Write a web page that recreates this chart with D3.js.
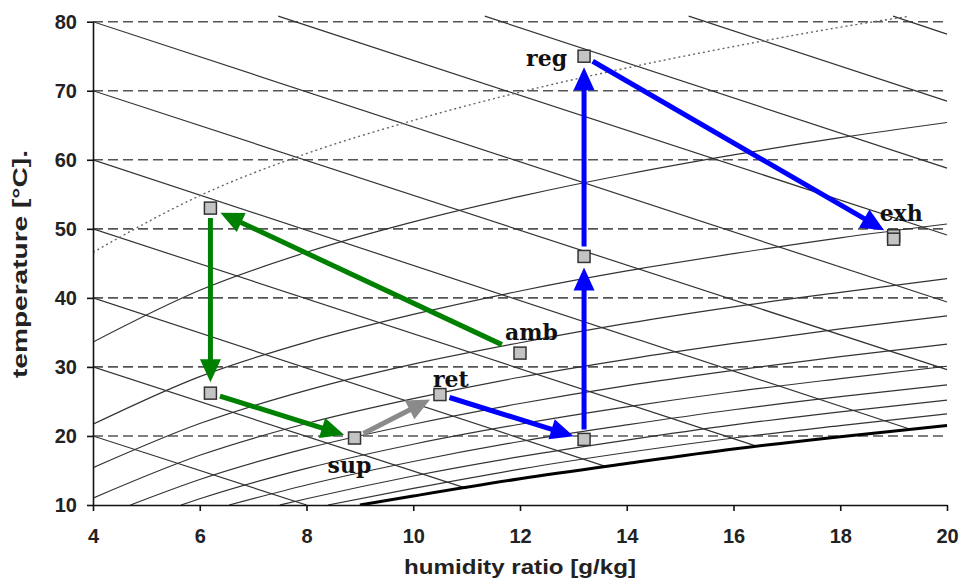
<!DOCTYPE html>
<html>
<head>
<meta charset="utf-8">
<script src="https://cdn.jsdelivr.net/npm/d3@7"></script>
<style>
  body { margin: 0; background: #fff; }
  svg { display: block; font-family: "Liberation Sans", Arial, sans-serif; }
  .axis text { font-weight: bold; font-size: 20px; fill: #222; }
  .axis path, .axis line { stroke: #111; stroke-width: 1.6; }
  .state-label { font-family: "DejaVu Serif", "Liberation Serif", serif; font-weight: bold; font-size: 22px; fill: #111; }
  .axis-title { font-weight: bold; fill: #222; }
</style>
</head>
<body>
<div id="chart"></div>
<script>
// ticks
var xTicks = [4, 6, 8, 10, 12, 14, 16, 18, 20];
var yTicks = [10, 20, 30, 40, 50, 60, 70, 80];
var gridTemps = [20, 30, 40, 50, 60, 70, 80];

// constant enthalpy lines, [x g/kg, T °C] end points
var enthalpyLines = [
  [[4, 20], [8.0, 10]],
  [[4, 30], [11.0, 12.4]],
  [[4, 40], [13.6, 15.6]],
  [[4, 50], [16.4, 18.6]],
  [[4, 60], [19.3, 21.0]],
  [[4, 70], [20, 29.6]],
  [[4, 80], [20, 39.4]],
  [[7.47, 80.8], [20, 49.1]],
  [[11.34, 80.8], [20, 58.8]],
  [[15.16, 80.8], [20, 68.5]],
  [[18.99, 80.8], [20, 78.2]]
];

// constant relative humidity lines (10% .. 90%)
var rhLines = [
  [[4, 33.6], [6, 41.1], [8, 46.6], [10, 51.0], [12, 54.7], [14, 57.9], [16, 60.7], [18, 63.2], [20, 65.4]],
  [[4, 21.7], [6, 28.6], [8, 33.6], [10, 37.6], [12, 41.0], [14, 43.9], [16, 46.4], [18, 48.7], [20, 50.7]],
  [[4, 15.4], [6, 21.8], [8, 26.6], [10, 30.4], [12, 33.5], [14, 36.3], [16, 38.7], [18, 40.8], [20, 42.8]],
  [[4, 11.0], [6, 17.2], [8, 21.8], [10, 25.4], [12, 28.5], [14, 31.1], [16, 33.4], [18, 35.5], [20, 37.4]],
  [[4.7, 10], [6, 13.7], [8, 18.2], [10, 21.7], [12, 24.7], [14, 27.3], [16, 29.5], [18, 31.5], [20, 33.3]],
  [[5.65, 10], [6, 10.9], [8, 15.3], [10, 18.8], [12, 21.7], [14, 24.2], [16, 26.4], [18, 28.3], [20, 30.1]],
  [[6.55, 10], [8, 12.9], [10, 16.3], [12, 19.2], [14, 21.6], [16, 23.8], [18, 25.7], [20, 27.4]],
  [[7.5, 10], [8, 10.9], [10, 14.2], [12, 17.0], [14, 19.4], [16, 21.6], [18, 23.5], [20, 25.2]],
  [[8.4, 10], [10, 12.4], [12, 15.2], [14, 17.6], [16, 19.7], [18, 21.5], [20, 23.2]]
];

// saturation line (thick)
var saturation = [[9.0, 10], [10, 11.3], [12, 13.8], [14, 16.0], [16, 18.1], [18, 19.9], [20, 21.5]];

// dotted 5% line
var rhDotted = [[4, 46.6], [6, 54.8], [8, 60.9], [10, 65.7], [12, 69.8], [14, 73.3], [16, 76.4], [18, 79.2], [19.3, 80.8]];

// process states
var stateNames = ["amb", "h1", "h2", "sup", "ret", "r1", "r2", "reg", "exh", "exh2"];
var stateX     = [12.0,  6.2,  6.2,  8.9, 10.5, 13.2, 13.2, 13.2, 19.0, 19.0];
var stateT     = [32.0, 53.0, 26.2, 19.7, 26.0, 19.5, 46.0, 75.0, 49.0, 48.5];
var labelled = ["amb", "sup", "ret", "reg", "exh"];

// arrow chains
var greenPath = ["amb", "h1", "h2", "sup"];
var grayPath = ["sup", "ret"];
var bluePath = ["ret", "r1", "r2", "reg", "exh"];

var svgWidth = 960, svgHeight = 584;

var svg = d3.select("#chart").append("svg")
  .attr("width", svgWidth)
  .attr("height", svgHeight);

var x = d3.scaleLinear().domain([4, 20]).range([93, 947]);
var y = d3.scaleLinear().domain([10, 80]).range([505, 21.7]);

svg.append("clipPath").attr("id", "plotclip")
  .append("rect")
  .attr("x", x(4)).attr("y", 12)
  .attr("width", x(20) - x(4) + 2).attr("height", y(10) - 12);

var plot = svg.append("g").attr("clip-path", "url(#plotclip)");

// dashed temperature grid
plot.selectAll("line.grid")
  .data(gridTemps)
  .enter()
  .append("line")
  .attr("class", "grid")
  .attr("x1", x(4)).attr("x2", x(20))
  .attr("y1", d => y(d)).attr("y2", d => y(d))
  .attr("stroke", "#555")
  .attr("stroke-width", 1.6)
  .attr("stroke-dasharray", "10,5");

var line = d3.line().x(d => x(d[0])).y(d => y(d[1]));
var curve = d3.line().x(d => x(d[0])).y(d => y(d[1])).curve(d3.curveMonotoneX);

plot.selectAll("path.enth")
  .data(enthalpyLines)
  .enter()
  .append("path")
  .attr("class", "enth")
  .attr("d", line)
  .attr("fill", "none")
  .attr("stroke", "#333")
  .attr("stroke-width", 1.2);

plot.selectAll("path.rh")
  .data(rhLines)
  .enter()
  .append("path")
  .attr("class", "rh")
  .attr("d", curve)
  .attr("fill", "none")
  .attr("stroke", "#333")
  .attr("stroke-width", 1.2);

plot.append("path")
  .attr("d", curve(saturation))
  .attr("fill", "none")
  .attr("stroke", "#000")
  .attr("stroke-width", 3);

plot.append("path")
  .attr("d", curve(rhDotted))
  .attr("fill", "none")
  .attr("stroke", "#666")
  .attr("stroke-width", 1.4)
  .attr("stroke-dasharray", "2,3");

// axes
svg.append("g")
  .attr("class", "axis")
  .attr("transform", `translate(0, ${y(10)})`)
  .call(d3.axisBottom(x).tickValues(xTicks).tickSizeInner(6).tickSizeOuter(0).tickPadding(18));

svg.append("g")
  .attr("class", "axis")
  .attr("transform", `translate(${x(4)}, 0)`)
  .call(d3.axisLeft(y).tickValues(yTicks).tickSizeInner(6).tickSizeOuter(0).tickPadding(10));

// arrows
function pos(name) {
  var i = stateNames.indexOf(name);
  return [x(stateX[i]), y(stateT[i])];
}

function drawArrows(chain, color) {
  for (var k = 0; k < chain.length - 1; k++) {
    var a = pos(chain[k]), b = pos(chain[k + 1]);
    var dx = b[0] - a[0], dy = b[1] - a[1];
    var len = Math.sqrt(dx * dx + dy * dy);
    var ux = dx / len, uy = dy / len;
    var startGap = chain[k] == "amb" ? 20 : 10;
    var tip = [b[0] - ux * 11, b[1] - uy * 11];
    var base = [tip[0] - ux * 23, tip[1] - uy * 23];
    svg.append("line")
      .attr("x1", a[0] + ux * startGap).attr("y1", a[1] + uy * startGap)
      .attr("x2", base[0] + ux * 2).attr("y2", base[1] + uy * 2)
      .attr("stroke", color)
      .attr("stroke-width", 5);
    svg.append("polygon")
      .attr("points", [
        tip,
        [base[0] - uy * 10.5, base[1] + ux * 10.5],
        [base[0] + uy * 10.5, base[1] - ux * 10.5]
      ].map(p => p.join(",")).join(" "))
      .attr("fill", color);
  }
}

drawArrows(greenPath, "#008000");
drawArrows(grayPath, "#8a8a8a");
drawArrows(bluePath, "#0000ff");

// state markers
svg.selectAll("rect.state")
  .data(stateNames)
  .enter()
  .append("rect")
  .attr("class", "state")
  .attr("x", d => pos(d)[0] - 6)
  .attr("y", d => pos(d)[1] - 6)
  .attr("width", 12)
  .attr("height", 12)
  .attr("fill", "#c4c4c4")
  .attr("stroke", "#333")
  .attr("stroke-width", 1.5);

// labels
var labelOffset = {
  amb: [-15, -13, "start"],
  sup: [-27, 35, "start"],
  ret: [-7, -8, "start"],
  reg: [-17, 10, "end"],
  exh: [-14, -15, "start"]
};

svg.selectAll("text.state-label")
  .data(labelled)
  .enter()
  .append("text")
  .attr("class", "state-label")
  .attr("x", d => pos(d)[0] + labelOffset[d][0])
  .attr("y", d => pos(d)[1] + labelOffset[d][1])
  .attr("text-anchor", d => labelOffset[d][2])
  .text(d => d);

// axis titles
svg.append("text")
  .attr("class", "axis-title")
  .attr("x", 520)
  .attr("y", 574)
  .attr("text-anchor", "middle")
  .style("font-size", "21px")
  .attr("textLength", 232)
  .attr("lengthAdjust", "spacingAndGlyphs")
  .text("humidity ratio [g/kg]");

svg.append("text")
  .attr("class", "axis-title")
  .attr("transform", "translate(27, 264) rotate(-90)")
  .attr("text-anchor", "middle")
  .style("font-size", "20px")
  .attr("textLength", 228)
  .attr("lengthAdjust", "spacingAndGlyphs")
  .text("temperature [°C].");
</script>
</body>
</html>
